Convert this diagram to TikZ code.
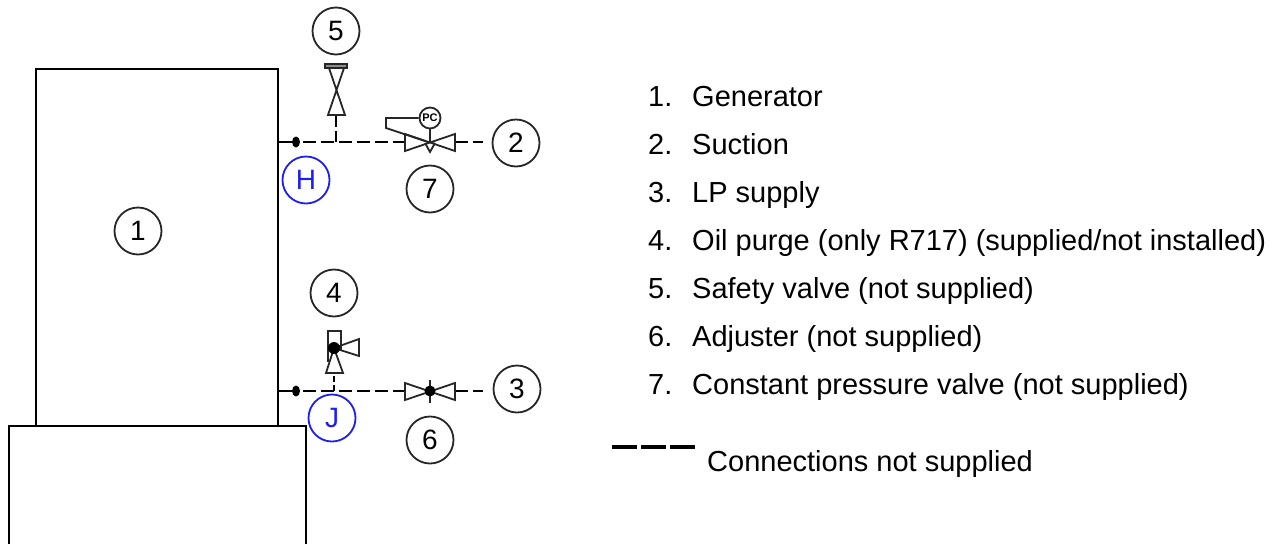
\documentclass[tikz,border=0pt]{standalone}
\usepackage{fontspec}
\setmainfont{Liberation Sans}
\definecolor{tagblue}{RGB}{30,30,240}
\tikzset{
	tag/.style={draw=black!85,line width=1.8pt,circle,minimum size=47pt,inner sep=0pt,font=\fontsize{28}{28}\selectfont},
	bluetag/.style={tag,draw=tagblue,text=tagblue},
	pipe/.style={line width=2.6pt,dash pattern=on 13pt off 5pt},
	sym/.style={line width=1.8pt,draw=black!85,line join=miter},
	listtext/.style={anchor=base west,inner sep=0pt,font=\fontsize{29}{29}\selectfont}
}
\begin{document}
\begin{tikzpicture}[x=1pt,y=-1pt]
	\useasboundingbox (0,0) rectangle (1282,544);
	% tanks
	\draw[line width=2pt] (36,426) -- (36,69) -- (278,69) -- (278,426);
	\draw[line width=2pt] (306,544) -- (306,426) -- (9,426) -- (9,544);
	\node[tag] (gen) at (138,231) {1};
	% circled numbers
	\node[tag] (suction) at (516,143) {2};
	\node[tag] (lpsupply) at (517,389) {3};
	\node[tag] (oilpurge) at (334,293) {4};
	\node[tag] (safety) at (336,31) {5};
	\node[tag] (adjuster) at (430,440) {6};
	\node[tag] (constp) at (430,189) {7};
	\node[bluetag] (connH) at (306,180) {H};
	\node[bluetag] (connJ) at (332,418) {J};
	% upper line
	\coordinate (wallH) at (278,142);
	\coordinate (dotH) at (296,142);
	\coordinate (teeH) at (336,142);
	\coordinate (safeIn) at (336,115);
	\coordinate (valveHL) at (405,142);
	\coordinate (valveHR) at (455,142);
	\coordinate (endH) at (483,142);
	\draw[line width=2pt] (wallH) -- (dotH);
	\fill (dotH) ellipse (4pt and 5.5pt);
	\draw[pipe] (dotH) ++(7,0) -- (valveHL);
	\draw[pipe] (valveHR) -- (endH);
	\draw[line width=2.6pt,dash pattern=on 11pt off 4pt] (teeH) -- (safeIn);
	% safety valve
	\draw[sym] (328,115) -- (345,115) -- (329,68) -- (344,68) -- cycle;
	\draw[sym,fill=black!45] (325,64) rectangle (347,68);
	% constant pressure valve
	\draw[sym] (405,134) -- (405,151) -- (455,134) -- (455,151) -- cycle;
	\draw[sym] (425,143) -- (430,152) -- (435,143);
	\node[draw=black!85,line width=1.8pt,circle,minimum size=21pt,inner sep=0pt,font=\bfseries\fontsize{11}{11}\selectfont] (pc) at (430,118) {PC};
	\draw[sym] (pc) -- (430,142);
	\draw[sym] (pc.west) -- (386,118) -- (386,128) -- (425,141);
	% lower line
	\coordinate (wallJ) at (278,391);
	\coordinate (dotJ) at (296,391);
	\coordinate (teeJ) at (334,391);
	\coordinate (purgeIn) at (334,373);
	\coordinate (valveJL) at (405,391);
	\coordinate (valveJR) at (455,391);
	\coordinate (endJ) at (483,391);
	\draw[line width=2pt] (wallJ) -- (dotJ);
	\fill (dotJ) ellipse (4pt and 5.5pt);
	\draw[pipe] (dotJ) ++(7,0) -- (valveJL);
	\draw[pipe] (valveJR) -- (endJ);
	\draw[line width=2.6pt,dash pattern=on 6pt off 3pt] (teeJ) -- (purgeIn);
	% oil purge valve
	\draw[sym] (328,362) -- (328,331) -- (341,331) -- (341,350);
	\draw[sym] (334,348) -- (326,373) -- (343,373) -- cycle;
	\draw[sym] (334,348) -- (359,339) -- (359,356) -- cycle;
	\fill (334,348) circle (6pt);
	% adjuster
	\draw[sym] (405,383) -- (405,400) -- (455,383) -- (455,400) -- cycle;
	\draw[sym] (430,380) -- (430,403);
	\fill (430,391) circle (5.5pt);
	% list
	\foreach \y/\n/\t in {106/1./Generator,154/2./Suction,202/3./LP supply,
		250/4./{Oil purge (only R717) (supplied/not installed)},
		298/5./Safety valve (not supplied),346/6./Adjuster (not supplied),
		394/7./Constant pressure valve (not supplied)}
	{
		\node[listtext] (num\n) at (648,\y) {\n};
		\node[listtext] (txt\n) at (692,\y) {\t};
	}
	% legend
	\coordinate (legA) at (612,447);
	\coordinate (legB) at (698,447);
	\draw[line width=4pt,dash pattern=on 25pt off 4pt] (legA) -- (legB);
	\node[listtext] (legend) at (707,471) {Connections not supplied};
\end{tikzpicture}
\end{document}
